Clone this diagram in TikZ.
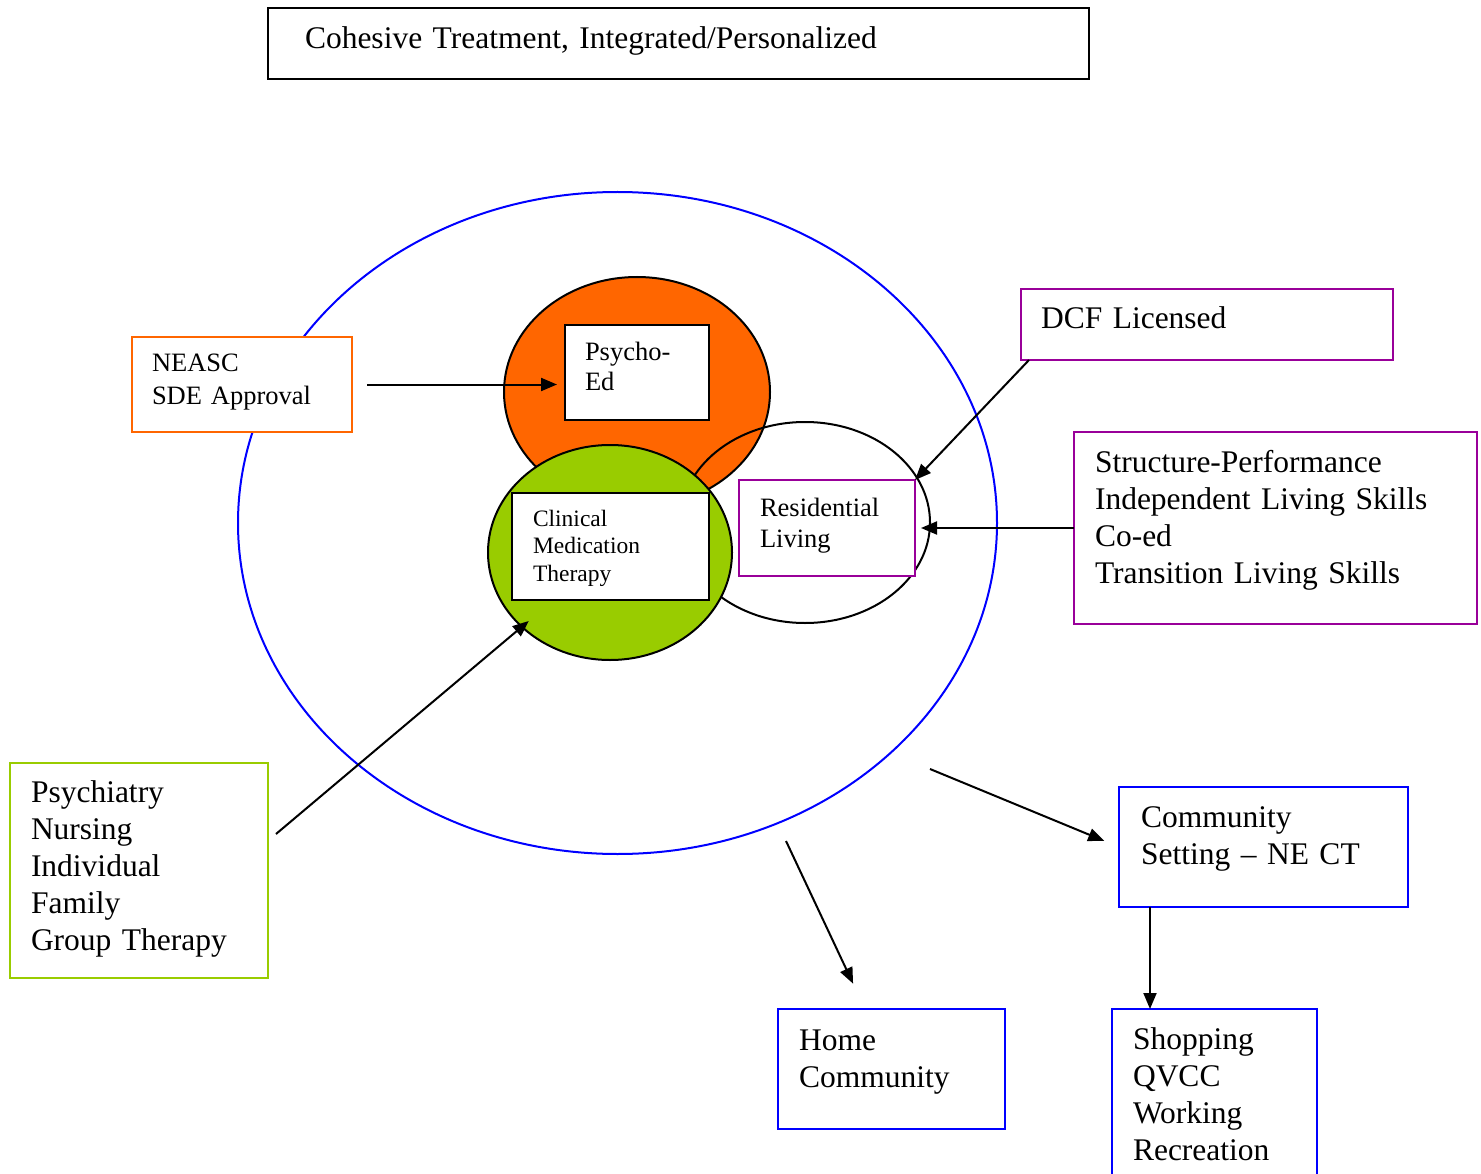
\documentclass[tikz,border=0pt]{standalone}
\usepackage{fontspec}
\setmainfont{Liberation Serif}
\usetikzlibrary{arrows.meta,shapes.geometric}

\definecolor{edorange}{HTML}{FF6600}
\definecolor{medgreen}{HTML}{99CC00}
\definecolor{dcfpurple}{HTML}{990099}
\definecolor{setblue}{HTML}{0000FF}

\newcommand{\bigtext}{\fontsize{31.5}{37}\selectfont}
\newcommand{\midtext}{\fontsize{26.5}{31}\selectfont}
\newcommand{\smalltext}{\fontsize{23.5}{27.5}\selectfont}

\begin{document}
\begin{tikzpicture}[
  x=1pt, y=-1pt,
  box/.style={rectangle, draw, line width=2pt, fill=white, anchor=north west, align=left, inner ysep=0pt, outer sep=0pt, font=\bigtext},
  ring/.style={ellipse, draw, line width=2pt, inner sep=0pt, outer sep=0pt},
  arr/.style={-{Triangle[length=16pt,width=13pt]}, line width=2pt},
]
  \useasboundingbox (0,0) rectangle (1481,1174);

  \node[box, inner xsep=37pt, text width=747pt, text height=41pt, text depth=30pt] (title) at (268,8) {Cohesive Treatment, Integrated/Personalized};

  \node[ring, draw=setblue, minimum width=759pt, minimum height=662pt] (program) at (617.5,523) {};

  \node[box, draw=edorange, font=\fontsize{26.5}{33}\selectfont, inner xsep=20pt, text width=180pt, text height=34pt, text depth=61pt] (neasc) at (132,337) {NEASC\\SDE Approval};

  \node[ring, fill=edorange, minimum width=266pt, minimum height=230pt] (edring) at (637,392) {};
  \node[ring, minimum width=250pt, minimum height=201pt] (livring) at (805,522.5) {};
  \node[ring, fill=medgreen, minimum width=244pt, minimum height=215pt] (medring) at (610,552.5) {};

  \node[box, font=\midtext, inner xsep=20pt, text width=104pt, text height=35pt, text depth=60pt] (psycho) at (565,325) {Psycho-\\Ed};
  \node[box, font=\smalltext, inner xsep=21pt, text width=155pt, text height=33pt, text depth=74pt] (clinical) at (512,493) {Clinical\\Medication\\Therapy};
  \node[box, draw=dcfpurple, font=\midtext, inner xsep=21pt, text width=134pt, text height=36pt, text depth=60pt] (resid) at (739,480) {Residential\\Living};

  \node[box, draw=dcfpurple, inner xsep=20pt, text width=332pt, text height=40pt, text depth=31pt] (dcf) at (1021,289) {DCF Licensed};
  \node[box, draw=dcfpurple, inner xsep=21pt, text width=361pt, text height=40pt, text depth=152pt] (skills) at (1074,432) {Structure-Performance\\Independent Living Skills\\Co-ed\\Transition Living Skills};
  \node[box, draw=medgreen, inner xsep=21pt, text width=216pt, text height=39pt, text depth=176pt] (therapy) at (10,763) {Psychiatry\\Nursing\\Individual\\Family\\Group Therapy};
  \node[box, draw=setblue, inner xsep=22pt, text width=245pt, text height=40pt, text depth=80pt] (commset) at (1119,787) {Community\\Setting \textendash{} NE CT};
  \node[box, draw=setblue, inner xsep=21pt, text width=185pt, text height=41pt, text depth=79pt] (home) at (778,1009) {Home\\Community};
  \node[box, draw=setblue, inner xsep=21pt, text width=163pt, text height=40pt, text depth=175pt] (shopping) at (1112,1009) {Shopping\\QVCC\\Working\\Recreation};

  \coordinate (homeexit) at (786,841);
  \coordinate (commexit) at (930,769);

  \draw[arr, shorten <=15pt, shorten >=8pt] (neasc.east) -- (neasc.east -| psycho.west);
  \draw[arr] ([xshift=8pt]dcf.south west) -- (resid.north east);
  \draw[arr, shorten >=6pt] (skills.west) -- (skills.west -| resid.east);
  \draw[arr, shorten >=-9pt] ([xshift=8pt,yshift=36.5pt]therapy.east) -- (medring);
  \draw[arr, shorten >=16pt] (commexit) -- (commset.west);
  \draw[arr, shorten >=28pt] (homeexit) -- ([xshift=87pt]home.north west);
  \draw[arr] ([xshift=31pt]commset.south west) -- ([xshift=31pt]commset.south west |- shopping.north);
\end{tikzpicture}
\end{document}
